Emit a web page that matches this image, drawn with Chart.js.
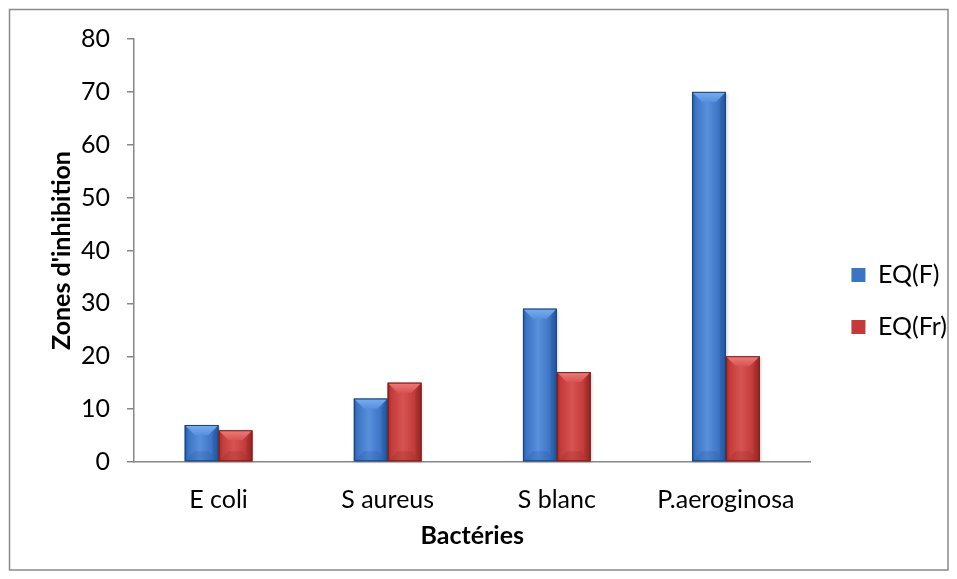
<!DOCTYPE html>
<html>
<head>
<meta charset="utf-8">
<script src="https://cdn.jsdelivr.net/npm/chart.js@4/dist/chart.umd.min.js"></script>
<style>
  html, body { margin: 0; padding: 0; background: #fff; }
  #wrap { position: relative; width: 957px; height: 579px; }
</style>
</head>
<body>
<div id="wrap"><canvas id="c" width="957" height="579"></canvas></div>
<script>
const categories = ['E coli', 'S aureus', 'S blanc', 'P.aeroginosa'];
const seriesNames = ['EQ(F)', 'EQ(Fr)'];
const valuesF = [7, 12, 29, 70];
const valuesFr = [6, 15, 17, 20];
const yTicks = [0, 10, 20, 30, 40, 50, 60, 70, 80];
const yTitle = "Zones d'inhibition";
const xTitle = 'Bactéries';

const FONT = 'Lato, "Liberation Sans", sans-serif';
const FS = 25;
const AXIS = '#878787';

const palette = [
  { base: '#3c74c4', light: '#5890dc', top: '#7aaef0', dark: '#24549a', edge: '#1d4678' },
  { base: '#c23b3a', light: '#d65352', top: '#ef7d7c', dark: '#952725', edge: '#7a1f1e' }
];

// measure legend text width to place the legend
const mctx = document.createElement('canvas').getContext('2d');
mctx.font = FS + 'px ' + FONT;
const maxLegendText = Math.max(...seriesNames.map(s => mctx.measureText(s).width));
const LEG_PAD = 27, BOX_W = 14;
const legendWidth = LEG_PAD + BOX_W + FS / 2 + maxLegendText;
const padRight = Math.max(0, 957 - 825 - legendWidth - 10);

const framePlugin = {
  id: 'frame',
  beforeDraw(chart) {
    const ctx = chart.ctx;
    ctx.save();
    ctx.fillStyle = '#fff';
    ctx.fillRect(0, 0, chart.width, chart.height);
    ctx.strokeStyle = '#8a8a8a';
    ctx.lineWidth = 1.5;
    ctx.strokeRect(9.5, 9.5, 938.5, 560.5);
    ctx.restore();
  }
};

const bevelPlugin = {
  id: 'bevel',
  afterDatasetsDraw(chart) {
    const ctx = chart.ctx;
    chart.data.datasets.forEach((ds, di) => {
      const meta = chart.getDatasetMeta(di);
      const p = palette[di];
      meta.data.forEach(el => {
        const { x, y, base, width } = el.getProps(['x', 'y', 'base', 'width'], true);
        const l = x - width / 2, r = x + width / 2, t = Math.min(y, base), b = Math.max(y, base);
        const h = b - t;
        const bv = Math.min(10, width / 2, h / 2);
        ctx.save();
        ctx.shadowColor = 'rgba(0,0,0,0.25)';
        ctx.shadowBlur = 3;
        ctx.shadowOffsetX = 1;
        ctx.shadowOffsetY = 1;
        const g = ctx.createLinearGradient(l, 0, r, 0);
        g.addColorStop(0, p.dark);
        g.addColorStop(0.1, p.base);
        g.addColorStop(0.45, p.light);
        g.addColorStop(0.8, p.base);
        g.addColorStop(1, p.dark);
        ctx.fillStyle = g;
        ctx.fillRect(l, t, width, h);
        ctx.restore();
        ctx.save();
        // top bevel
        const gt = ctx.createLinearGradient(0, t, 0, t + bv);
        gt.addColorStop(0, p.top);
        gt.addColorStop(1, p.light);
        ctx.fillStyle = gt;
        ctx.beginPath();
        ctx.moveTo(l, t); ctx.lineTo(r, t); ctx.lineTo(r - bv, t + bv); ctx.lineTo(l + bv, t + bv);
        ctx.closePath(); ctx.fill();
        // subtle bottom bevel
        ctx.fillStyle = p.dark;
        ctx.globalAlpha = 0.25;
        ctx.beginPath();
        ctx.moveTo(l, b); ctx.lineTo(r, b); ctx.lineTo(r - bv, b - bv); ctx.lineTo(l + bv, b - bv);
        ctx.closePath(); ctx.fill();
        // right bevel
        ctx.globalAlpha = 0.3;
        ctx.beginPath();
        ctx.moveTo(r, t); ctx.lineTo(r, b); ctx.lineTo(r - bv * 0.6, b - bv * 0.6); ctx.lineTo(r - bv * 0.6, t + bv);
        ctx.closePath(); ctx.fill();
        ctx.globalAlpha = 1;
        ctx.strokeStyle = p.edge;
        ctx.lineWidth = 1;
        ctx.strokeRect(l + 0.5, t + 0.5, width - 1, h - 1);
        ctx.restore();
      });
    });
  }
};

new Chart(document.getElementById('c'), {
  type: 'bar',
  data: {
    labels: categories,
    datasets: [
      { label: seriesNames[0], data: valuesF, backgroundColor: palette[0].base, borderWidth: 0 },
      { label: seriesNames[1], data: valuesFr, backgroundColor: palette[1].base, borderWidth: 0 }
    ]
  },
  options: {
    responsive: false,
    animation: false,
    devicePixelRatio: 1,
    layout: { padding: { left: 0, top: 39, right: padRight, bottom: 16 } },
    datasets: { bar: { categoryPercentage: 0.40, barPercentage: 1.0 } },
    plugins: {
      tooltip: { enabled: false },
      legend: {
        position: 'right',
        align: 'center',
        labels: {
          boxWidth: BOX_W,
          boxHeight: 14,
          padding: LEG_PAD,
          color: '#000',
          font: { family: FONT, size: FS }
        }
      }
    },
    scales: {
      x: {
        grid: { display: false },
        border: { display: true, color: AXIS, width: 1.5 },
        ticks: { color: '#000', padding: 15, font: { family: FONT, size: FS }, maxRotation: 0 },
        title: { display: true, text: xTitle, color: '#000', padding: { top: 0, bottom: 12 },
                 font: { family: FONT, size: FS, weight: 'bold' } },
        afterFit(s) { s.height = 101; }
      },
      y: {
        min: 0, max: 80,
        afterBuildTicks(s) { s.ticks = yTicks.map(v => ({ value: v })); },
        grid: { display: true, drawOnChartArea: false, drawTicks: true, tickLength: 7, color: AXIS, lineWidth: 1.5 },
        border: { display: true, color: AXIS, width: 1.5 },
        ticks: { color: '#000', padding: 17, font: { family: FONT, size: FS } },
        title: { display: true, text: yTitle, color: '#000', padding: { top: 47, bottom: 0 },
                 font: { family: FONT, size: FS, weight: 'bold' } },
        afterFit(s) { s.width = 134; }
      },
      gap: {
        type: 'linear',
        position: 'right',
        display: true,
        grid: { display: false },
        border: { display: false },
        ticks: { display: false },
        afterFit(s) { s.width = 14; }
      }
    }
  },
  plugins: [framePlugin, bevelPlugin]
});
</script>
</body>
</html>
